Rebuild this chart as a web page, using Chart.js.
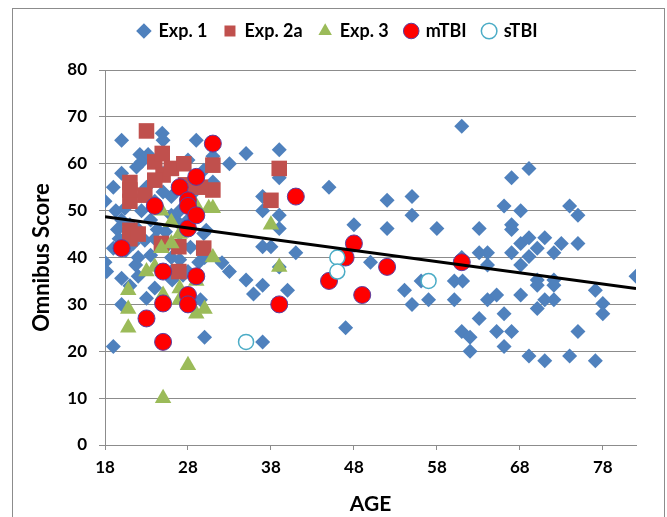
<!DOCTYPE html>
<html>
<head>
<meta charset="utf-8">
<script src="https://cdn.jsdelivr.net/npm/chart.js@4.4.1/dist/chart.umd.min.js"></script>
<style>
  body { margin: 0; background: #fff; }
  #wrap { position: relative; width: 667px; height: 517px; overflow: hidden; }
  #frame { position: absolute; left: 12px; top: 8px; width: 651px; height: 530px; border: 1px solid #8c8c8c; }
  canvas { position: absolute; left: 0; top: 0; }
</style>
</head>
<body>
<div id="wrap">
  <div id="frame"></div>
  <canvas id="myChart" width="667" height="517"></canvas>
</div>
<script>
// AGE vs Omnibus Score
const xTicks = [18, 28, 38, 48, 58, 68, 78];

const exp1 = [
    [18,52],[18,39],[18.2,37],[19,21],[19,55],[19.3,50],[19.5,46],[19.7,44],[20,65],[20,58],
    [20,35.6],[20,30],[20.4,50.5],[20.5,41.5],[21,54],[21,47],[21.4,43],[21.7,38.4],[21.8,59.3],[22.2,62],
    [22.4,60.4],[22.4,50],[22.8,43.7],[23,31.3],[23.2,62],[23.5,48],[23.5,40.5],[24,33.5],[24.3,46],[24.9,66.5],
    [25,65],[25.3,45.5],[25.5,42.6],[26,49],[26,40],[26.1,35.2],[26.8,47.5],[27,39.5],[27.4,36.2],[28,60.8],
    [28,45.8],[28.3,42.2],[29,54.4],[29,65],[29.3,39],[29.5,31],[29.9,58.6],[30,23],[30.2,45.8],[29.9,45.1],
    [31,61.6],[31,56.1],[22,36],[24,52],[26,53],[27,50],[28,48],[23,55],[25,58],[19,42],
    [20,48],[21,34],[22,40],[24,44],[27,43],[28,37],[25,54],[30,40],[26,37],[22,46],
    [32.1,38.9],[33,37],[33,60],[35,62.2],[35,35.2],[35.9,32.2],[37,53],[37,50],[37,42.3],[37,34.1],
    [37,22],[38,42.3],[39,63],[39,57],[39,49],[39,46.2],[39,38],[40,33],[41,41],[45,55],
    [47,25],[48,47],[50,39],[52,52.2],[52,46.2],[54.1,33],[55,53],[55,49],[55,30],[56.1,35],
    [57,31],[58,46.2],[60.1,35],[60.1,31],[61.1,35],[61,40],[61,68],[61,24.2],[62,20],[62,23],
    [63.1,46.2],[63.1,41],[63.1,27],[64.1,41],[64.1,38.4],[64.1,31],[65.2,32],[65.2,24.2],[66.1,51],[66.1,28],
    [66.1,21],[67,57],[67,47],[67,46],[67,41],[67,24.2],[68.1,50],[68.1,43],[68.1,38.4],[68.1,32],
    [69.1,59],[69.1,44.2],[69.1,40.2],[69.1,19],[70.1,42],[70.1,35.2],[70.1,34.1],[70.1,29.1],[71,44.2],[71,31],
    [71,18],[72.1,41],[72.1,35.2],[72.1,34.1],[72.1,31],[73,43],[74,51],[74,19],[75,49],[75,43],
    [75,24.2],[77.1,33],[77.1,18],[78,30.2],[78,28],[82,36]
];

const exp2a = [
    [23,67],[21,56],[21,52],[22.8,53.3],[24,60.4],[24.9,62.2],[25,57.6],[26,59],[24,56.5],[21,54.4],
    [21,45.8],[21,44],[22,45],[24.8,43],[26.9,42.3],[29.9,42],[26.9,37],[31,59.7],[31,54.4],[39,59],
    [38,52.2],[27.7,55.5],[27.5,60],[29.5,55]
];

const exp3 = [
    [20.8,33],[20.8,29],[20.8,25],[23,37],[24,38],[24.8,42],[24.8,50],[25,32],[25,10],[26,47.5],
    [26,43],[27,45],[27,33.4],[27,31],[28,17],[29,51],[29,35],[29,28],[30,29],[30.5,50.5],
    [31,50.5],[31,40],[38,47],[39,38]
];

const mTBI = [
    [20,42],[23,27],[24,51],[25,37],[25,30.2],[25,22],[27,55],[28,52.2],[28,51],[28,46.2],
    [28,32],[28,30],[29,57.2],[29,49],[29,36],[31,64.3],[41,53],[39,30],[45,35],[47,40],
    [48,43],[49,32],[52,38],[61,39]
];

const sTBI = [[35,22],[46,40],[46,37],[57,35]];

// linear trend line (two ends)
const trend = [[18,48.7],[82,33.4]];

function pts(arr) {
    return arr.map(p => ({ x: p[0], y: p[1] }));
}

// extra space under the legend and shift it a bit right, like the original
const legendTweak = {
    id: 'legendTweak',
    beforeUpdate(chart) {
        const lg = chart.legend;
        if (lg && !lg._patched) {
            const fit = lg.fit;
            lg.fit = function () {
                fit.call(this);
                this.height += 20;
            };
            lg._patched = true;
        }
    },
    afterLayout(chart) {
        const lg = chart.legend;
        lg.left += 20;
        lg.right += 20;
    }
};

Chart.defaults.font.family = 'Lato, "Open Sans", sans-serif';
Chart.defaults.color = '#000';

const ctx = document.getElementById('myChart');

new Chart(ctx, {
    type: 'scatter',
    data: {
        datasets: [
            {
                label: 'Exp. 1',
                data: pts(exp1),
                pointStyle: 'rectRot',
                pointRadius: 7.5,
                backgroundColor: '#4F81BD',
                borderColor: '#4F81BD',
                borderWidth: 0,
                order: 5
            },
            {
                label: 'Exp. 2a',
                data: pts(exp2a),
                pointStyle: 'rect',
                pointRadius: 11,
                backgroundColor: '#C0504D',
                borderColor: '#C0504D',
                borderWidth: 0,
                order: 4
            },
            {
                label: 'Exp. 3',
                data: pts(exp3),
                pointStyle: 'triangle',
                pointRadius: 9.5,
                backgroundColor: '#9BBB59',
                borderColor: '#9BBB59',
                borderWidth: 0,
                order: 3
            },
            {
                label: 'mTBI',
                data: pts(mTBI),
                pointStyle: 'circle',
                pointRadius: 8.5,
                backgroundColor: '#FF0000',
                borderColor: '#5B3FA0',
                borderWidth: 1,
                order: 2
            },
            {
                label: 'sTBI',
                data: pts(sTBI),
                pointStyle: 'circle',
                pointRadius: 7.5,
                backgroundColor: '#FFFFFF',
                borderColor: '#4BACC6',
                borderWidth: 1.5,
                order: 1
            },
            {
                label: 'trend',
                type: 'line',
                data: pts(trend),
                borderColor: '#000',
                borderWidth: 3,
                pointRadius: 0,
                fill: false,
                order: 0
            }
        ]
    },
    options: {
        responsive: false,
        animation: false,
        layout: {
            padding: { top: 5, right: 31, bottom: 0, left: 0 }
        },
        scales: {
            x: {
                type: 'linear',
                min: 18,
                max: 82,
                afterBuildTicks: scale => {
                    scale.ticks = xTicks.map(v => ({ value: v }));
                },
                afterFit: scale => { scale.height = 72; },
                grid: {
                    drawOnChartArea: false,
                    drawTicks: true,
                    tickLength: 5,
                    color: '#8c8c8c'
                },
                border: { color: '#8c8c8c', width: 1 },
                ticks: {
                    font: { size: 17, weight: 'bold' },
                    padding: 7
                },
                title: {
                    display: true,
                    text: 'AGE',
                    font: { size: 21, weight: 'bold' },
                    padding: { top: 0, bottom: 0 }
                }
            },
            y: {
                min: 0,
                max: 80,
                afterFit: scale => { scale.width = 105; },
                ticks: {
                    stepSize: 10,
                    font: { size: 17, weight: 'bold' },
                    padding: 12
                },
                grid: {
                    color: '#8c8c8c',
                    tickLength: 6
                },
                border: { color: '#8c8c8c', width: 1 },
                title: {
                    display: true,
                    text: 'Omnibus Score',
                    font: { size: 22, weight: 'bold' },
                    padding: { top: 29, bottom: 0 }
                }
            }
        },
        plugins: {
            legend: {
                display: true,
                position: 'top',
                labels: {
                    usePointStyle: true,
                    boxWidth: 11,
                    boxHeight: 11,
                    padding: 17,
                    font: { size: 18, weight: 'bold' },
                    filter: item => item.text !== 'trend',
                    sort: (a, b) => a.datasetIndex - b.datasetIndex
                }
            },
            tooltip: { enabled: false }
        }
    },
    plugins: [legendTweak]
});
</script>
</body>
</html>
